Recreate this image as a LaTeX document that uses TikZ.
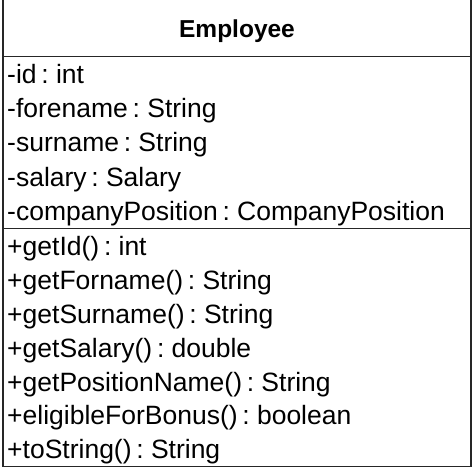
\documentclass[tikz,border=0pt]{standalone}
\usepackage{fontspec}
\setmainfont[WordSpace=0.65]{Liberation Sans}
\begin{document}
\begin{tikzpicture}[x=1pt,y=1pt,
  member/.style={anchor=base west,inner sep=0pt,font=\fontsize{26.5}{30}\selectfont},
  title/.style={anchor=base,inner sep=0pt,font=\bfseries\fontsize{24.5}{30}\selectfont},
  border/.style={line width=1.5pt,draw=black!85}]
\useasboundingbox (0,0) rectangle (474,-468);
\fill[white] (0,0) rectangle (474,-468);
% class box (top edge lies above the visible area)
\draw[border] (3,2) -- (3,-466.5) -- (471,-466.5) -- (471,2);
\coordinate (hl) at (3,-56.7);
\coordinate (hr) at (471,-56.7);
\coordinate (al) at (3,-228.3);
\coordinate (ar) at (471,-228.3);
\draw[border] (hl) -- (hr);
\draw[border] (al) -- (ar);
\node[title] (name) at (237,-37.3) {Employee};
% attributes
\node[member] (a1) at (7,-84) {-id : int};
\node[member] (a2) at (7,-118) {-forename : String};
\node[member] (a3) at (7,-152) {-surname : String};
\node[member] (a4) at (7,-186) {-salary : Salary};
\node[member] (a5) at (7,-220) {-companyPosition : CompanyPosition};
% methods
\node[member] (m1) at (7,-255) {+getId() : int};
\node[member] (m2) at (7,-289) {+getForname() : String};
\node[member] (m3) at (7,-323) {+getSurname() : String};
\node[member] (m4) at (7,-357) {+getSalary() : double};
\node[member] (m5) at (7,-391) {+getPositionName() : String};
\node[member] (m6) at (7,-424.5) {+eligibleForBonus() : boolean};
\node[member] (m7) at (7,-458) {+toString() : String};
\end{tikzpicture}
\end{document}
